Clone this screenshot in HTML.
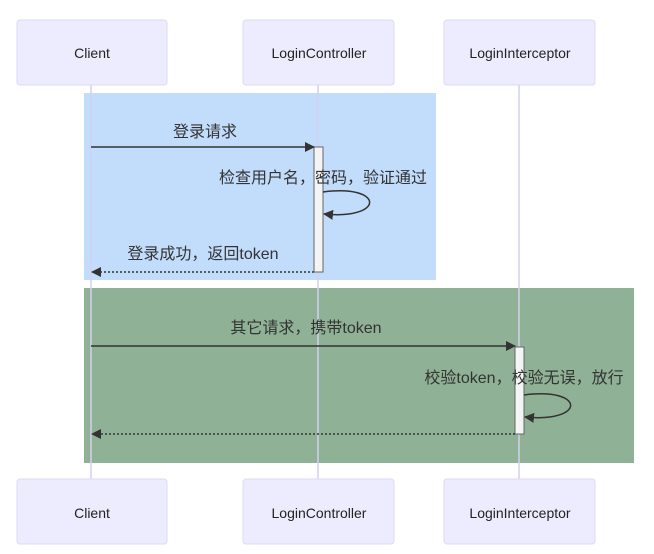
<!DOCTYPE html>
<html><head><meta charset="utf-8"><style>
html,body{margin:0;padding:0;background:#fff;width:654px;height:554px;overflow:hidden}
</style></head><body>
<svg width="654" height="554" xmlns="http://www.w3.org/2000/svg" font-family="Liberation Sans, Noto Sans CJK SC, sans-serif">
<defs>
<marker id="a" markerWidth="10" markerHeight="10" refX="9" refY="5" orient="auto" markerUnits="userSpaceOnUse"><path d="M0,0 L10,5 L0,10 z" fill="#333"/></marker>
</defs>
<rect x="84" y="93" width="352" height="187" fill="#c2dcfb"/>
<rect x="84" y="288" width="550" height="175" fill="#8fb195"/>
<g stroke="#d4d0ee" stroke-width="1.5">
<line x1="91" y1="85" x2="91" y2="480"/>
<line x1="318" y1="85" x2="318" y2="480"/>
<line x1="519" y1="85" x2="519" y2="480"/>
</g>
<g fill="#ececfe" stroke="#dcdaf2" stroke-width="1">
<rect x="17" y="20" width="150" height="65" rx="3"/>
<rect x="243" y="20" width="151" height="65" rx="3"/>
<rect x="444" y="20" width="151" height="65" rx="3"/>
<rect x="17" y="479" width="150" height="65" rx="3"/>
<rect x="243" y="479" width="151" height="65" rx="3"/>
<rect x="444" y="479" width="151" height="65" rx="3"/>
</g>
<g font-size="14" fill="#222" text-anchor="middle">
<text x="92" y="58">Client</text><text x="319" y="58">LoginController</text><text x="520" y="58">LoginInterceptor</text>
<text x="92" y="518">Client</text><text x="319" y="518">LoginController</text><text x="520" y="518">LoginInterceptor</text>
</g>
<rect x="314" y="147" width="9" height="125" fill="#f4f4f4" stroke="#666" stroke-width="1"/>
<rect x="515" y="347" width="9" height="87" fill="#f4f4f4" stroke="#666" stroke-width="1"/>
<g stroke="#333" stroke-width="1.5" fill="none">
<line x1="91" y1="147" x2="314" y2="147" marker-end="url(#a)"/>
<path d="M323,192 C385,184 385,220 324,214" marker-end="url(#a)"/>
<line x1="314" y1="272" x2="92" y2="272" stroke-dasharray="2,2" marker-end="url(#a)"/>
<line x1="91" y1="346" x2="515" y2="346" marker-end="url(#a)"/>
<path d="M524,395 C586,387 586,423 525,417" marker-end="url(#a)"/>
<line x1="515" y1="434" x2="92" y2="434" stroke-dasharray="2,2" marker-end="url(#a)"/>
</g>
<g font-size="16" fill="#333" text-anchor="middle">
<text x="205" y="137">登录请求</text>
<text x="323" y="183">检查用户名，密码，验证通过</text>
<text x="203" y="259">登录成功，返回token</text>
<text x="306" y="333">其它请求，携带token</text>
<text x="524" y="383">校验token，校验无误，放行</text>
</g>
</svg>
</body></html>
